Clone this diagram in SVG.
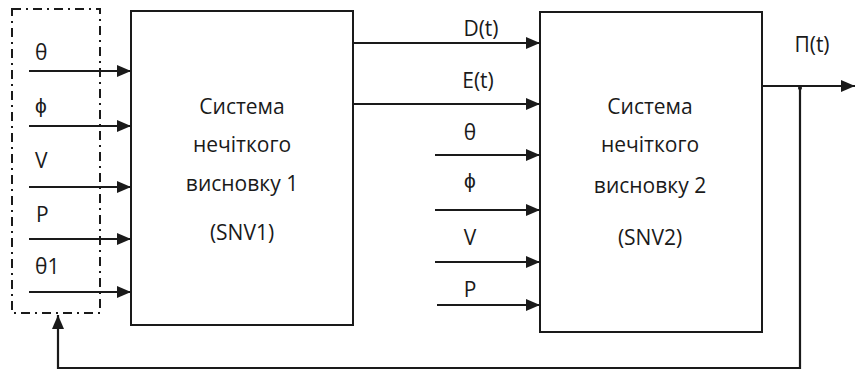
<svg xmlns="http://www.w3.org/2000/svg" width="855" height="371" viewBox="0 0 855 371">
<defs>
<marker id="ah" markerWidth="14" markerHeight="12" refX="14" refY="6" orient="auto" markerUnits="userSpaceOnUse">
<path d="M0,0 L14,6 L0,12 Z" fill="#1a1a1a"/>
</marker>
<style>
.t{font-family:"Open Sans","Liberation Sans",sans-serif;font-size:21px;fill:#1a1a1a}
.c{text-anchor:middle}
.box{fill:#fff;stroke:#1a1a1a;stroke-width:2}
.ln{fill:none;stroke:#1a1a1a;stroke-width:2}
.ar{fill:none;stroke:#1a1a1a;stroke-width:2.2;marker-end:url(#ah)}
</style>
</defs>
<rect width="855" height="371" fill="#fff"/>
<g id="input-group">
<rect x="12" y="9" width="88" height="304" fill="none" stroke="#1a1a1a" stroke-width="2" stroke-dasharray="9,5,2,5"/>
<text class="t" x="35" y="60">θ</text>
<text class="t" x="35" y="113">ϕ</text>
<text class="t" x="35" y="168">V</text>
<text class="t" x="36" y="222">P</text>
<text class="t" x="35" y="274">θ1</text>
</g>
<g id="snv1">
<rect class="box" x="131" y="11" width="222" height="314"/>
<text class="t c" x="242" y="114">Система</text>
<text class="t c" x="242" y="152">нечіткого</text>
<text class="t c" x="242" y="191">висновку 1</text>
<text class="t c" x="242" y="240">(SNV1)</text>
</g>
<g id="snv2">
<rect class="box" x="540" y="12" width="222" height="320"/>
<text class="t c" x="650" y="114">Система</text>
<text class="t c" x="650" y="152">нечіткого</text>
<text class="t c" x="650" y="193">висновку 2</text>
<text class="t c" x="650" y="245">(SNV2)</text>
</g>
<g id="connectors">
<line class="ar" x1="29" y1="71" x2="131" y2="71"/>
<line class="ar" x1="29" y1="126" x2="131" y2="126"/>
<line class="ar" x1="29" y1="187" x2="131" y2="187"/>
<line class="ar" x1="29" y1="239" x2="131" y2="239"/>
<line class="ar" x1="29" y1="292" x2="131" y2="292"/>
<line class="ar" x1="353" y1="43" x2="540" y2="43"/>
<line class="ar" x1="353" y1="104" x2="540" y2="104"/>
<line class="ar" x1="435" y1="155" x2="540" y2="155"/>
<line class="ar" x1="435" y1="210" x2="540" y2="210"/>
<line class="ar" x1="435" y1="262" x2="540" y2="262"/>
<line class="ar" x1="437" y1="305" x2="540" y2="305"/>
<line class="ar" x1="762" y1="86" x2="855" y2="86"/>
<circle cx="800" cy="88" r="2" fill="#1a1a1a"/>
<polyline class="ar" points="800,88 800,368 58,368 58,315"/>
</g>
<g id="labels">
<text class="t c" x="481" y="36">D(t)</text>
<text class="t c" x="478" y="88">E(t)</text>
<text class="t c" x="470" y="140">θ</text>
<text class="t c" x="470" y="188">ϕ</text>
<text class="t c" x="470" y="245">V</text>
<text class="t c" x="470" y="297">P</text>
<text class="t c" x="812" y="52">Π(t)</text>
</g>
</svg>
